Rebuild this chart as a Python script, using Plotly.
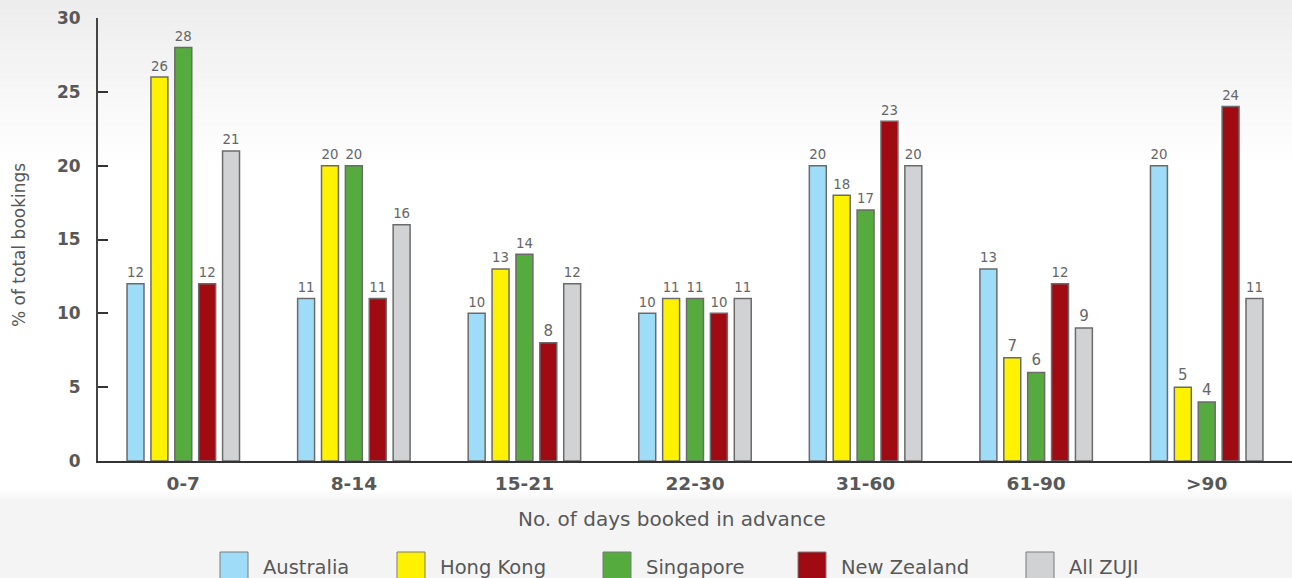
import plotly.graph_objects as go

categories = ["0-7", "8-14", "15-21", "22-30", "31-60", "61-90", ">90"]
series_names = ["Australia", "Hong Kong", "Singapore", "New Zealand", "All ZUJI"]
australia = [12, 11, 10, 10, 20, 13, 20]
hong_kong = [26, 20, 13, 11, 18, 7, 5]
singapore = [28, 20, 14, 11, 17, 6, 4]
new_zealand = [12, 11, 8, 10, 23, 12, 24]
all_zuji = [21, 16, 12, 11, 20, 9, 11]
y_ticks = [0, 5, 10, 15, 20, 25, 30]

series_values = [australia, hong_kong, singapore, new_zealand, all_zuji]
colors = ["#9fdcf7", "#fff200", "#56ab3f", "#a00a12", "#d1d2d4"]
FONT = "'DejaVu Sans', sans-serif"
TXT = "#585858"

# plot-area geometry in figure pixels (for paper-coordinate conversion)
L, R, T, B = 98, 1292, 18, 461
def px(xp):
    return (xp - L) / (R - L)
def py(yp):
    return (B - yp) / (B - T)

fig = go.Figure()
for name, vals, col in zip(series_names, series_values, colors):
    fig.add_trace(go.Bar(
        x=categories, y=vals, name=name,
        marker=dict(color=col, line=dict(color="#6b6b6b", width=1.5)),
        text=[str(v) for v in vals], textposition="outside",
        textfont=dict(family=FONT, size=15, color="#666666"),
        cliponaxis=False, showlegend=False,
    ))

shapes = []
top_h = 170
# white area
shapes.append(dict(type="rect", xref="paper", yref="paper", x0=px(0), x1=px(1292),
                   y0=py(490), y1=py(top_h), fillcolor="white", line=dict(width=0), layer="below"))
# top gradient
n = 40
for i in range(n):
    y0p = i * top_h / n
    y1p = (i + 1) * top_h / n + 0.5
    g = round(237 + (255 - 237) * (i / (n - 1)))
    shapes.append(dict(type="rect", xref="paper", yref="paper", x0=px(0), x1=px(1292),
                       y0=py(y1p), y1=py(y0p), fillcolor=f"rgb({g},{g},{g})",
                       line=dict(width=0), layer="below"))
# bottom gradient
m = 12
for i in range(m):
    y0p = 490 + i * 12 / m
    y1p = 490 + (i + 1) * 12 / m + 0.5
    g = round(255 - (255 - 244) * ((i + 1) / m))
    shapes.append(dict(type="rect", xref="paper", yref="paper", x0=px(0), x1=px(1292),
                       y0=py(y1p), y1=py(y0p), fillcolor=f"rgb({g},{g},{g})",
                       line=dict(width=0), layer="below"))

legend_items_x = [220, 397, 603, 798, 1026]
annotations = []
for name, col, lx in zip(series_names, colors, legend_items_x):
    shapes.append(dict(type="rect", xref="paper", yref="paper",
                       x0=px(lx), x1=px(lx + 28), y0=py(580), y1=py(552),
                       fillcolor=col, line=dict(color="#7a7a7a", width=1)))
    annotations.append(dict(xref="paper", yref="paper", x=px(lx + 41), y=py(567),
                            text=name, showarrow=False, xanchor="left", yanchor="middle",
                            font=dict(family=FONT, size=19.5, color=TXT)))

annotations.append(dict(xref="paper", yref="paper", x=px(672), y=py(519),
                        text="No. of days booked in advance", showarrow=False,
                        xanchor="center", yanchor="middle",
                        font=dict(family=FONT, size=20, color=TXT)))
annotations.append(dict(xref="paper", yref="paper", x=px(19), y=py(245),
                        text="% of total bookings", showarrow=False, textangle=-90,
                        xanchor="center", yanchor="middle",
                        font=dict(family=FONT, size=17, color=TXT)))

fig.update_layout(
    width=1292, height=578,
    margin=dict(l=L, r=1292 - R, t=T, b=578 - B),
    paper_bgcolor="#f4f4f4", plot_bgcolor="rgba(0,0,0,0)",
    barmode="group", bargap=0.30, bargroupgap=0.29,
    shapes=shapes, annotations=annotations,
    font=dict(family=FONT, color=TXT),
)

fig.update_xaxes(showline=True, linecolor="#333333", linewidth=1.5, showgrid=False,
                 ticks="", tickfont=dict(family=FONT, size=18.5, color=TXT, weight="bold"),
                 ticklabelstandoff=5)
fig.update_yaxes(range=[0, 30], tickvals=y_ticks, showline=True, linecolor="#444444", linewidth=2,
                 showgrid=False, zeroline=False, ticks="inside", ticklen=10, tickwidth=2, tickcolor="#333333",
                 tickfont=dict(family=FONT, size=17, color=TXT, weight="bold"), ticklabelstandoff=12)

fig.write_html("out.html")
